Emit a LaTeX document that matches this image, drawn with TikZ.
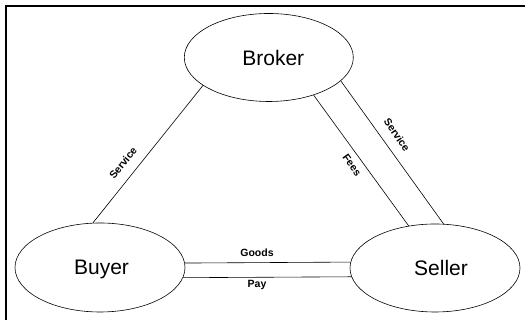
\documentclass[tikz,border=0pt]{standalone}
\usepackage{fontspec}
\setmainfont{Liberation Sans}
\usepackage{tikz}
\usetikzlibrary{shapes.geometric}

\tikzset{
  party/.style={draw,ellipse,line width=0.6pt,inner sep=0pt,text depth=0pt,font=\fontsize{21}{25}\selectfont},
  lbl/.style={inner sep=1pt,font=\bfseries\fontsize{10.5}{12}\selectfont},
  link/.style={-,line width=0.6pt}
}

\begin{document}
\begin{tikzpicture}[x=1pt,y=1pt]
\useasboundingbox (0,0) rectangle (525,320);

\draw[line width=1.1pt] (6,0) -- (6,313.6);
\draw[line width=1.8pt] (5.45,313.6) -- (525,313.6);
%%%
\node[party][minimum width=169pt,minimum height=88pt] (Broker) at (268.8,262.5) {\hspace*{9pt}Broker};
\node[party][minimum width=170pt,minimum height=89pt] (Buyer) at (100,52.5) {\hspace*{3pt}Buyer};
\node[party][minimum width=170pt,minimum height=88pt] (Seller) at (435,52) {\hspace*{12pt}Seller};
%%%
\draw[link] (Broker.203) -- (Buyer.99.4);
\path (123,157) node[lbl,rotate=51.6] (svcB) {Service};

\draw[link] (Broker.320.5) -- (Seller.122.7);
\path (352,155) node[lbl,rotate=-54.3] (fees) {Fees};

\draw[link] (Broker.342.9) -- (Seller.79.2);
\path (397,185) node[lbl,rotate=-55.3] (svcS) {Service};
%%%
\draw[link] (Buyer.3.05) -- (Seller.176.6);
\path (257,67.3) node[lbl] (goods) {Goods};

\draw[link] (Buyer.353.5) -- (Seller.186.2);
\path (257,34.7) node[lbl] (pay) {Pay};
\end{tikzpicture}
\end{document}
